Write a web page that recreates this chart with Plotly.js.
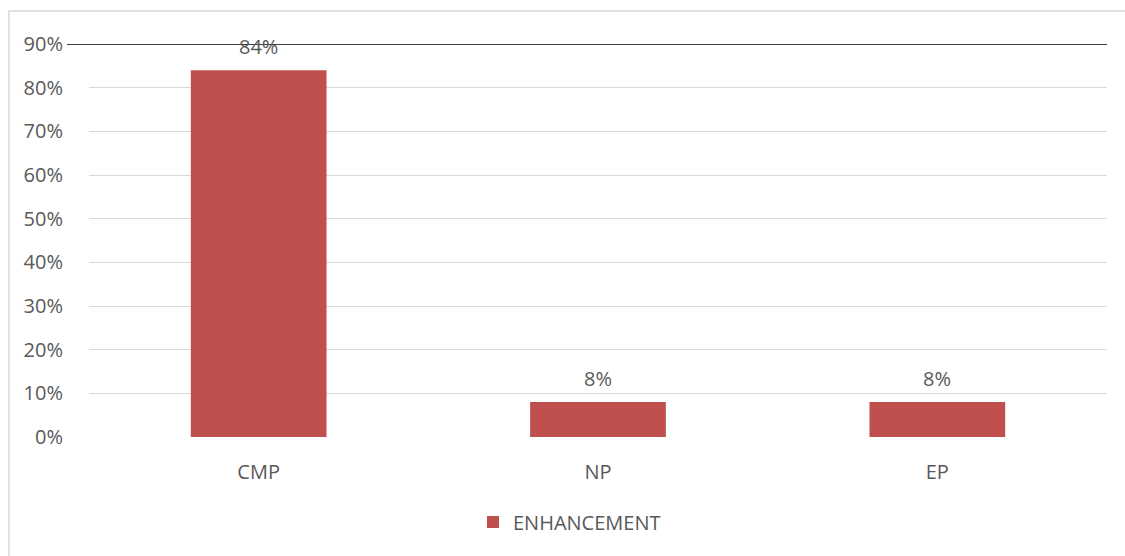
<!DOCTYPE html>
<html>
<head>
<meta charset="utf-8">
<script src="https://cdn.plot.ly/plotly-3.0.1.min.js"></script>
<style>html,body{margin:0;padding:0;background:#fff;}#chart{width:1125px;height:556px;}</style>
</head>
<body>
<div id="chart"></div>
<script>
const categories = ["CMP", "NP", "EP"];
const values = [0.84, 0.08, 0.08];
const valueLabels = ["84%", "8%", "8%"];
const seriesName = "ENHANCEMENT";

const barColor = "#C0504D";
const textColor = "#595959";
const fontFamily = "Open Sans, Liberation Sans, sans-serif";
const fs = 20;

const trace = {
  type: "bar",
  x: categories,
  y: values,
  name: seriesName,
  marker: {color: barColor},
  width: 0.4,
  hoverinfo: "none"
};

const annotations = categories.map((c, i) => ({
  x: c, y: values[i], xref: "x", yref: "y",
  text: valueLabels[i], showarrow: false,
  yanchor: "middle", yshift: 24,
  font: {family: fontFamily, size: fs, color: textColor}
}));

const layout = {
  width: 1125, height: 556,
  margin: {l: 89, r: 18, t: 44, b: 119},
  paper_bgcolor: "#fff", plot_bgcolor: "#fff",
  font: {family: fontFamily, size: fs, color: textColor},
  showlegend: true,
  legend: {orientation: "h", x: 0.472, xanchor: "center", y: -0.216, yanchor: "middle",
           font: {family: fontFamily, size: fs, color: textColor}, itemwidth: 30},
  xaxis: {type: "category", showgrid: false, zeroline: false, showline: false,
          ticks: "outside", ticklen: 17, tickcolor: "rgba(0,0,0,0)",
          tickfont: {family: fontFamily, size: fs, color: textColor}},
  yaxis: {range: [0, 0.9], dtick: 0.1, tickformat: ".0%", showgrid: true,
          gridcolor: "#d9d9d9", gridwidth: 1, zeroline: false, showline: false,
          ticks: "outside", ticklen: 21, tickcolor: "rgba(0,0,0,0)",
          tickfont: {family: fontFamily, size: fs, color: textColor}},
  bargap: 0.6,
  annotations: annotations,
  shapes: [
    {type: "rect", xref: "paper", yref: "paper", x0: -0.0786, x1: 1.2, y0: -0.6, y1: 1.084,
     line: {color: "#d9d9d9", width: 1.5}, fillcolor: "rgba(0,0,0,0)", layer: "below"},
    {type: "line", xref: "paper", yref: "y", x0: -0.0216, x1: 1, y0: 0.9, y1: 0.9,
     line: {color: "#404040", width: 2}, layer: "above"}
  ]
};

Plotly.newPlot("chart", [trace], layout, {displayModeBar: false, staticPlot: true});
</script>
</body>
</html>
